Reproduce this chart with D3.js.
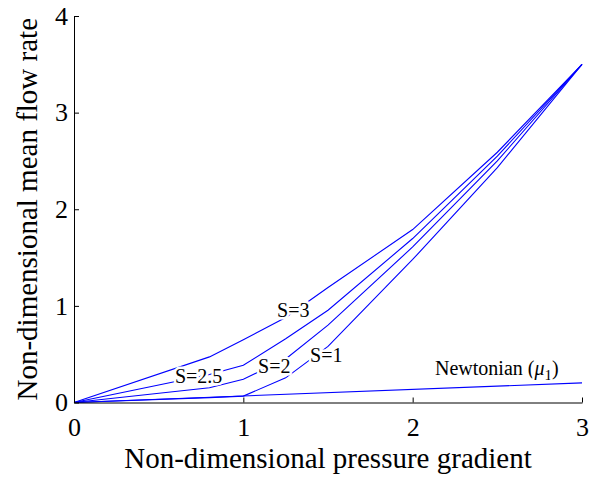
<!DOCTYPE html>
<html>
<head>
<meta charset="utf-8">
<script src="https://cdn.jsdelivr.net/npm/d3@7"></script>
<style>
  body { margin: 0; background: #fff; }
  svg { display: block; }
  .curve { fill: none; stroke: #0000ff; stroke-width: 1.1; }
  .lbl { font-size: 20px; stroke: #fff; stroke-width: 5px; paint-order: stroke; stroke-linejoin: round; }
</style>
</head>
<body>
<script>
// pressure gradient values (x)
var gradient = [0, 0.8, 1.0, 1.25, 1.5, 2.0, 2.5, 3.0];

// mean flow rate for each yield stress S
var flowS3  = [0, 0.472, 0.65, 0.88, 1.19, 1.79, 2.59, 3.5];
var flowS25 = [0, 0.29, 0.386, 0.66, 0.955, 1.697, 2.55, 3.5];
var flowS2  = [0, 0.152, 0.241, 0.45, 0.80, 1.61, 2.50, 3.5];
var flowS1  = [0, 0.05, 0.066, 0.255, 0.58, 1.48, 2.43, 3.5];

// newtonian reference line
var newtX = [0, 3];
var newtY = [0, 0.203];

var xTicks = [0, 1, 2, 3];
var yTicks = [0, 1, 2, 3, 4];

// curve labels, placed in data units
var curveLabels = [
  {text: "S=3",   x: 1.199, y: 0.885},
  {text: "S=2.5", x: 0.596, y: 0.202},
  {text: "S=2",   x: 1.087, y: 0.305},
  {text: "S=1",   x: 1.394, y: 0.419}
];

var serif = "'Liberation Serif', 'Times New Roman', serif";
var svgWidth = 602, svgHeight = 479;

var svg = d3.select("body").append("svg")
  .attr("width", svgWidth)
  .attr("height", svgHeight)
  .style("font-family", serif);

var x = d3.scaleLinear().domain([0, 3]).range([74, 582]);
var y = d3.scaleLinear().domain([0, 4]).range([402.5, 16]);

var line = d3.line()
  .x(function(d) { return x(d[0]); })
  .y(function(d) { return y(d[1]); });

var series = [flowS3, flowS25, flowS2, flowS1];
series.forEach(function(s) {
  svg.append("path")
    .attr("class", "curve")
    .attr("d", line(gradient.map(function(g, i) { return [g, s[i]]; })));
});

svg.append("path")
  .attr("class", "curve")
  .attr("d", line(newtX.map(function(g, i) { return [g, newtY[i]]; })));

// axes - ticks point inward, no box
var xAxis = svg.append("g")
  .attr("transform", "translate(0," + y(0) + ")")
  .call(d3.axisBottom(x).tickValues(xTicks).tickFormat(d3.format("d"))
    .tickSizeInner(-5).tickSizeOuter(0).tickPadding(15));

var yAxis = svg.append("g")
  .attr("transform", "translate(" + x(0) + ",0)")
  .call(d3.axisLeft(y).tickValues(yTicks).tickFormat(d3.format("d"))
    .tickSizeInner(-5).tickSizeOuter(0).tickPadding(6));

[xAxis, yAxis].forEach(function(a) {
  a.attr("font-family", null).attr("font-size", null);
  a.selectAll("text").style("font-family", serif).style("font-size", "26px");
  a.selectAll("line").attr("stroke", "#000");
  a.select(".domain").attr("stroke", "#000");
});

// curve labels (white halo breaks the line like the original)
svg.selectAll(".lbl.s")
  .data(curveLabels)
  .enter().append("text")
  .attr("class", "lbl s")
  .attr("x", function(d) { return x(d.x); })
  .attr("y", function(d) { return y(d.y); })
  .text(function(d) { return d.text; });

var newt = svg.append("text")
  .attr("class", "lbl")
  .attr("x", x(2.132))
  .attr("y", y(0.285));
newt.append("tspan").text("Newtonian (");
newt.append("tspan").style("font-style", "italic").text("\u03bc");
newt.append("tspan").attr("dy", 5).style("font-size", "15px").text("1");
newt.append("tspan").attr("dy", -5).text(")");

// axis titles
svg.append("text")
  .attr("x", (x(0) + x(3)) / 2)
  .attr("y", 468)
  .attr("text-anchor", "middle")
  .style("font-size", "29px")
  .text("Non-dimensional pressure gradient");

svg.append("text")
  .attr("transform", "translate(37," + (y(0) + y(4)) / 2 + ") rotate(-90)")
  .attr("text-anchor", "middle")
  .style("font-size", "29px")
  .text("Non-dimensional mean flow rate");
</script>
</body>
</html>
